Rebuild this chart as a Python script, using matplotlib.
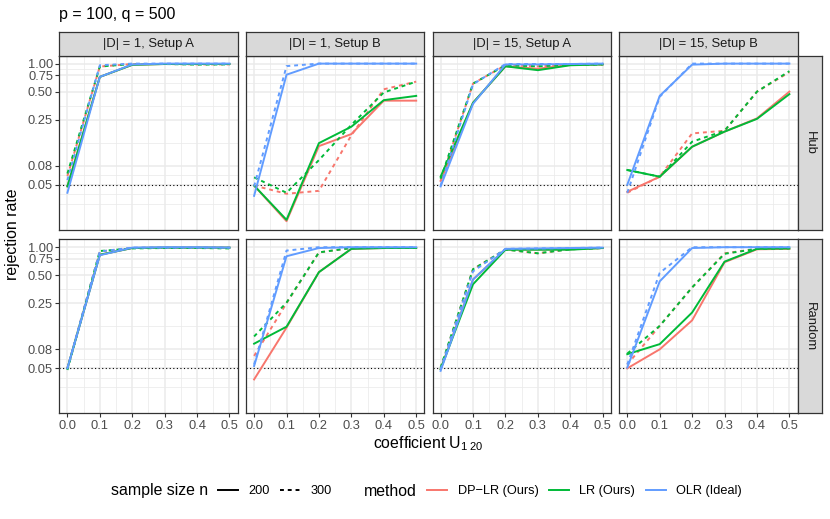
import matplotlib
matplotlib.use("Agg")
import matplotlib.pyplot as plt
from matplotlib.lines import Line2D
import numpy as np

plt.rcParams['font.family'] = ['Liberation Sans', 'DejaVu Sans']
plt.rcParams['mathtext.fontset'] = 'custom'
plt.rcParams['mathtext.rm'] = 'Liberation Sans'
plt.rcParams['mathtext.it'] = 'Liberation Sans:italic'

# coefficient values
coef = [0.0, 0.1, 0.2, 0.3, 0.4, 0.5]
col_labels = ["|D| = 1, Setup A", "|D| = 1, Setup B", "|D| = 15, Setup A", "|D| = 15, Setup B"]
row_labels = ["Hub", "Random"]
method_labels = ["DP\u2212LR (Ours)", "LR (Ours)", "OLR (Ideal)"]
n_labels = ["200", "300"]
y_ticks = [0.05, 0.08, 0.25, 0.50, 0.75, 1.00]

# rejection rates, each list: [n = 200, n = 300]
hub_1a_dplr = [[0.048, 0.72, 0.97, 0.99, 0.99, 0.99], [0.062, 0.93, 0.99, 0.99, 0.98, 0.98]]
hub_1a_lr = [[0.048, 0.72, 0.97, 0.99, 0.99, 0.99], [0.066, 0.93, 0.99, 0.99, 0.975, 0.98]]
hub_1a_olr = [[0.041, 0.72, 0.98, 1.0, 1.0, 1.0], [0.056, 0.96, 1.0, 1.0, 1.0, 1.0]]

hub_1b_dplr = [[0.049, 0.0203, 0.13, 0.175, 0.40, 0.40], [0.049, 0.040, 0.043, 0.17, 0.53, 0.64]]
hub_1b_lr = [[0.049, 0.021, 0.14, 0.21, 0.405, 0.45], [0.060, 0.041, 0.092, 0.22, 0.49, 0.64]]
hub_1b_olr = [[0.038, 0.76, 1.0, 1.0, 1.0, 1.0], [0.048, 0.94, 1.0, 1.0, 1.0, 1.0]]

hub_15a_dplr = [[0.055, 0.38, 0.935, 0.88, 0.97, 0.98], [0.055, 0.61, 0.96, 0.935, 0.97, 0.98]]
hub_15a_lr = [[0.061, 0.38, 0.935, 0.85, 0.96, 0.98], [0.058, 0.61, 0.96, 0.935, 0.97, 0.98]]
hub_15a_olr = [[0.048, 0.37, 0.98, 0.98, 0.99, 1.0], [0.049, 0.60, 0.99, 0.99, 0.99, 1.0]]

hub_15b_dplr = [[0.042, 0.061, 0.128, 0.186, 0.258, 0.50], [0.041, 0.061, 0.178, 0.19, 0.50, 0.81]]
hub_15b_lr = [[0.072, 0.061, 0.128, 0.186, 0.255, 0.47], [0.072, 0.061, 0.145, 0.19, 0.50, 0.83]]
hub_15b_olr = [[0.05, 0.45, 0.975, 1.0, 1.0, 1.0], [0.041, 0.44, 1.0, 1.0, 1.0, 1.0]]

rnd_1a_dplr = [[0.05, 0.83, 0.98, 0.99, 0.99, 0.99], [0.05, 0.90, 0.98, 0.99, 0.99, 0.99]]
rnd_1a_lr = [[0.05, 0.83, 0.98, 0.99, 0.99, 0.99], [0.048, 0.91, 0.97, 0.98, 0.98, 0.97]]
rnd_1a_olr = [[0.05, 0.82, 0.99, 1.0, 1.0, 0.99], [0.05, 0.90, 0.99, 0.99, 0.99, 0.99]]

rnd_1b_dplr = [[0.038, 0.137, 0.54, 0.96, 0.98, 0.98], [0.068, 0.25, 0.88, 0.98, 0.98, 0.98]]
rnd_1b_lr = [[0.092, 0.14, 0.54, 0.96, 0.98, 0.98], [0.11, 0.254, 0.88, 0.98, 0.98, 0.98]]
rnd_1b_olr = [[0.053, 0.80, 0.98, 1.0, 1.0, 1.0], [0.055, 0.92, 1.0, 1.0, 1.0, 1.0]]

rnd_15a_dplr = [[0.049, 0.45, 0.945, 0.945, 0.95, 0.98], [0.05, 0.58, 0.945, 0.86, 0.95, 0.98]]
rnd_15a_lr = [[0.049, 0.40, 0.94, 0.94, 0.94, 0.98], [0.051, 0.58, 0.945, 0.86, 0.95, 0.98]]
rnd_15a_olr = [[0.047, 0.45, 0.96, 0.97, 0.98, 0.99], [0.049, 0.55, 0.96, 0.97, 0.98, 0.99]]

rnd_15b_dplr = [[0.05, 0.080, 0.164, 0.69, 0.95, 0.96], [0.055, 0.143, 0.37, 0.86, 0.96, 0.97]]
rnd_15b_lr = [[0.071, 0.091, 0.199, 0.70, 0.96, 0.97], [0.072, 0.143, 0.37, 0.85, 0.96, 0.97]]
rnd_15b_olr = [[0.051, 0.43, 0.98, 1.0, 1.0, 1.0], [0.055, 0.53, 1.0, 1.0, 1.0, 1.0]]

panels = [
    [(hub_1a_dplr, hub_1a_lr, hub_1a_olr), (hub_1b_dplr, hub_1b_lr, hub_1b_olr),
     (hub_15a_dplr, hub_15a_lr, hub_15a_olr), (hub_15b_dplr, hub_15b_lr, hub_15b_olr)],
    [(rnd_1a_dplr, rnd_1a_lr, rnd_1a_olr), (rnd_1b_dplr, rnd_1b_lr, rnd_1b_olr),
     (rnd_15a_dplr, rnd_15a_lr, rnd_15a_olr), (rnd_15b_dplr, rnd_15b_lr, rnd_15b_olr)],
]

colors = ["#F8766D", "#00BA38", "#619CFF"]
styles = ["-", (0, (2, 2))]
W, H = 830, 519

fig = plt.figure(figsize=(W / 100, H / 100), dpi=100)

def fx(px):
    return px / W

def fy(py):
    return 1 - py / H

col_left = [59.3, 246.0, 432.5, 619.2]
col_w = 178.3
row_top = [55.7, 239.3]
row_h = 174.0
strip_top = 32.0
strip_w = 24.6

# log-scale limits, ggplot style 5% expansion around [0.02, 1]
lo, hi = np.log10(0.02), 0.0
pad = 0.05 * (hi - lo)
ylim = (10 ** (lo - pad), 10 ** (hi + pad))
ymaj = np.log10(y_ticks)
ymin_br = np.concatenate([[ymaj[0] - (ymaj[1] - ymaj[0])], ymaj])
ymin_br = (ymin_br[:-1] + ymin_br[1:]) / 2
ymin_br = np.concatenate([[ymaj[0] - (ymaj[1] - ymaj[0])], ymin_br])
ymin_br = 10 ** ymin_br

for r in range(2):
    for c in range(4):
        ax = fig.add_axes([fx(col_left[c]), fy(row_top[r] + row_h), fx(col_w), row_h / H])
        ax.set_yscale('log')
        ax.set_xlim(-0.025, 0.525)
        ax.set_ylim(*ylim)
        for x in np.arange(0.05, 0.5, 0.1):
            ax.axvline(x, color="#EBEBEB", lw=0.55, zorder=0)
        for y in ymin_br:
            ax.axhline(y, color="#EBEBEB", lw=0.55, zorder=0)
        for x in coef:
            ax.axvline(x, color="#EBEBEB", lw=1.1, zorder=0)
        for y in y_ticks:
            ax.axhline(y, color="#EBEBEB", lw=1.1, zorder=0)
        ax.axhline(0.05, color="black", lw=0.8, ls=(0, (1, 2.2)), zorder=1)
        for m, series in enumerate(panels[r][c]):
            for k in range(2):
                ax.plot(coef, series[k], color=colors[m], ls=styles[k], lw=1.4, zorder=2)
        ax.set_yticks(y_ticks)
        ax.set_yticks([], minor=True)
        ax.set_xticks(coef)
        ax.set_xticks([], minor=True)
        ax.tick_params(colors="#333333", labelcolor="#4D4D4D", labelsize=9.3, length=3, width=0.8, pad=1.5)
        if c == 0:
            ax.set_yticklabels(["%.2f" % v for v in y_ticks])
        else:
            ax.tick_params(axis='y', left=False, labelleft=False)
        if r == 1:
            ax.set_xticklabels(["%.1f" % v for v in coef])
        else:
            ax.tick_params(axis='x', bottom=False, labelbottom=False)
        for s in ax.spines.values():
            s.set_color("#333333")
            s.set_linewidth(0.9)

        if r == 0:
            sax = fig.add_axes([fx(col_left[c]), fy(row_top[0]), fx(col_w), (row_top[0] - strip_top) / H])
            sax.set_facecolor("#D9D9D9")
            sax.set_xticks([])
            sax.set_yticks([])
            for s in sax.spines.values():
                s.set_color("#333333")
                s.set_linewidth(0.9)
            sax.text(0.5, 0.5, col_labels[c], ha="center", va="center", fontsize=9.4,
                     color="#1A1A1A", transform=sax.transAxes)
        if c == 3:
            sax = fig.add_axes([fx(col_left[3] + col_w), fy(row_top[r] + row_h), fx(strip_w), row_h / H])
            sax.set_facecolor("#D9D9D9")
            sax.set_xticks([])
            sax.set_yticks([])
            for s in sax.spines.values():
                s.set_color("#333333")
                s.set_linewidth(0.9)
            sax.text(0.5, 0.5, row_labels[r], ha="center", va="center", fontsize=9.4,
                     color="#1A1A1A", rotation=-90, transform=sax.transAxes)

fig.text(fx(59), fy(14), "p = 100, q = 500", fontsize=11.5, ha="left", va="center")
fig.text(fx(12), fy(234), "rejection rate", fontsize=11.4, rotation=90, ha="center", va="center")
fig.text(fx(428.5), fy(444), r"coefficient U$_{\mathrm{1\ 20}}$", fontsize=11.4, ha="center", va="center")

# legends
fig.text(fx(111), fy(491), "sample size n", fontsize=11.4, ha="left", va="center")
fig.text(fx(364), fy(491), "method", fontsize=11.4, ha="left", va="center")
n_handles = [Line2D([], [], color="black", lw=1.4, ls=s) for s in styles]
m_handles = [Line2D([], [], color=c, lw=1.4) for c in colors]
common = dict(frameon=False, fontsize=9.2, handlelength=1.6, handletextpad=0.8,
              columnspacing=0.8, borderpad=0, borderaxespad=0, loc="center left")
fig.legend(n_handles, n_labels, ncol=2, bbox_to_anchor=(fx(218), fy(491)), **common)
fig.legend(m_handles, method_labels, ncol=3, bbox_to_anchor=(fx(427), fy(491)), **common)

fig.savefig("out.png", dpi=100)
